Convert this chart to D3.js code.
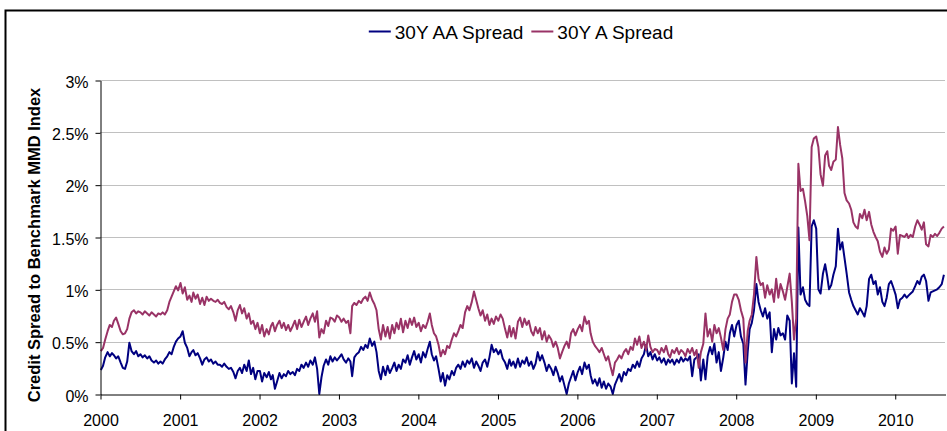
<!DOCTYPE html>
<html>
<head>
<meta charset="utf-8">
<script src="https://cdn.jsdelivr.net/npm/d3@7"></script>
<style>
body { margin: 0; background: #fff; }
svg { display: block; font-family: "Liberation Sans", Arial, sans-serif; }
</style>
</head>
<body>
<svg id="chart" width="947" height="431"></svg>
<script>
// legend / axis labels
var seriesNames = ["30Y AA Spread", "30Y A Spread"];
var seriesColors = ["#000080", "#993366"];
var yearLabels = ["2000","2001","2002","2003","2004","2005","2006","2007","2008","2009","2010"];
var yTicks = [0, 0.5, 1, 1.5, 2, 2.5, 3];
var yTitle = "Credit Spread to Benchmark MMD Index";

// spreads in %, three readings a month (5th, 15th, 25th), Jan 2000 - Aug 2010
var aaSpread = [
  0.23,0.27,0.35, 0.40,0.36,0.39, 0.37,0.34,0.36, 0.30,0.25,0.24, 0.31,0.49,0.41, 0.38,0.41,0.36, 0.38,0.35,0.37, 0.34,0.36,0.32, 0.30,0.32,0.29, 0.31,0.29,0.33, 0.36,0.40,0.38, 0.45,0.50,0.53,
  0.55,0.60,0.49, 0.44,0.36,0.40, 0.42,0.37,0.39, 0.34,0.28,0.33, 0.35,0.31,0.33, 0.29,0.31,0.28, 0.28,0.26,0.29, 0.26,0.24,0.25, 0.21,0.15,0.22, 0.25,0.20,0.28, 0.22,0.32,0.19, 0.25,0.14,0.22,
  0.22,0.12,0.20, 0.16,0.21,0.14, 0.18,0.05,0.12, 0.20,0.15,0.19, 0.17,0.22,0.19, 0.21,0.18,0.24, 0.22,0.28,0.25, 0.30,0.26,0.32, 0.28,0.35,0.24, 0.00,0.16,0.27, 0.33,0.28,0.36, 0.31,0.35,0.32,
  0.35,0.38,0.33, 0.30,0.34,0.31, 0.17,0.35,0.38, 0.40,0.45,0.42, 0.47,0.44,0.53, 0.46,0.50,0.40, 0.22,0.14,0.26, 0.18,0.27,0.20, 0.25,0.30,0.22, 0.28,0.24,0.33, 0.30,0.37,0.28, 0.35,0.41,0.33,
  0.38,0.30,0.40, 0.35,0.43,0.50, 0.38,0.32,0.36, 0.24,0.12,0.20, 0.08,0.18,0.14, 0.22,0.18,0.25, 0.28,0.24,0.31, 0.26,0.32,0.29, 0.34,0.25,0.31, 0.27,0.22,0.30, 0.33,0.26,0.35, 0.47,0.40,0.43,
  0.38,0.42,0.34, 0.30,0.24,0.33, 0.27,0.31,0.25, 0.34,0.26,0.32, 0.29,0.35,0.27, 0.31,0.24,0.29, 0.40,0.32,0.37, 0.30,0.22,0.28, 0.24,0.18,0.26, 0.20,0.12,0.17, 0.08,0.00,0.10, 0.16,0.22,0.13,
  0.21,0.26,0.19, 0.30,0.24,0.28, 0.18,0.10,0.14, 0.08,0.15,0.06, 0.12,0.05,0.10, 0.07,0.00,0.09, 0.14,0.19,0.12, 0.21,0.18,0.24, 0.22,0.28,0.25, 0.31,0.26,0.34, 0.38,0.47,0.36, 0.40,0.33,0.38,
  0.32,0.35,0.30, 0.34,0.28,0.33, 0.30,0.33,0.28, 0.33,0.30,0.35, 0.31,0.34,0.32, 0.36,0.17,0.33, 0.35,0.38,0.13, 0.33,0.14,0.36, 0.45,0.38,0.48, 0.30,0.40,0.22, 0.35,0.50,0.42, 0.58,0.66,0.55,
  0.66,0.70,0.55, 0.48,0.09,0.40, 0.62,0.68,0.80, 1.05,0.88,0.80, 0.74,0.82,0.72, 0.78,0.40,0.62, 0.52,0.63,0.56, 0.58,0.52,0.75, 0.70,0.10,0.39, 0.07,1.59,0.95, 1.02,0.90,0.86, 0.84,1.60,1.66,
  1.58,1.00,0.96, 1.15,1.24,1.12, 1.00,1.04,1.14, 1.22,1.58,1.38, 1.45,1.30,1.15, 0.97,0.90,0.84, 0.80,0.76,0.82, 0.78,0.74,0.84, 1.10,1.14,1.05, 1.08,0.95,1.02, 0.88,0.84,0.92, 1.05,1.08,1.02,
  0.95,0.82,0.90, 0.92,0.95,0.92, 0.94,0.96,0.98, 1.03,1.08,1.05, 1.12,1.14,1.08, 0.89,0.97,0.98, 0.99,1.00,1.02, 1.05,1.14
];
var aSpread = [
  0.41,0.44,0.52, 0.60,0.66,0.64, 0.70,0.73,0.67, 0.60,0.57,0.58, 0.62,0.72,0.78, 0.80,0.77,0.79, 0.78,0.76,0.79, 0.77,0.75,0.78, 0.76,0.74,0.77, 0.76,0.78,0.76, 0.80,0.88,0.93, 0.98,1.03,0.99,
  1.06,0.96,1.02, 0.90,0.94,0.88, 0.97,0.91,0.95, 0.86,0.92,0.85, 0.93,0.89,0.91, 0.89,0.88,0.90, 0.87,0.86,0.88, 0.83,0.81,0.84, 0.78,0.70,0.80, 0.85,0.77,0.82, 0.72,0.77,0.67, 0.70,0.62,0.68,
  0.58,0.66,0.55, 0.62,0.57,0.65, 0.68,0.60,0.66, 0.70,0.63,0.68, 0.61,0.66,0.60, 0.65,0.70,0.62, 0.71,0.64,0.69, 0.74,0.66,0.72, 0.77,0.69,0.79, 0.54,0.62,0.58, 0.70,0.65,0.73, 0.72,0.69,0.75,
  0.73,0.69,0.72, 0.68,0.70,0.58, 0.84,0.87,0.85, 0.89,0.87,0.91, 0.93,0.89,0.97, 0.90,0.86,0.80, 0.62,0.52,0.66, 0.55,0.64,0.53, 0.66,0.58,0.68, 0.62,0.72,0.59, 0.70,0.63,0.72, 0.66,0.73,0.64,
  0.68,0.60,0.66, 0.63,0.69,0.77, 0.66,0.58,0.55, 0.47,0.36,0.42, 0.38,0.46,0.44, 0.52,0.58,0.55, 0.60,0.66,0.63, 0.78,0.84,0.80, 0.88,0.98,0.90, 0.82,0.75,0.80, 0.70,0.76,0.66, 0.72,0.67,0.74,
  0.70,0.76,0.72, 0.62,0.54,0.65, 0.55,0.63,0.53, 0.69,0.73,0.64, 0.72,0.66,0.70, 0.60,0.56,0.64, 0.58,0.63,0.52, 0.60,0.50,0.56, 0.52,0.45,0.50, 0.44,0.34,0.40, 0.46,0.50,0.44, 0.58,0.62,0.56,
  0.62,0.66,0.60, 0.74,0.67,0.70, 0.58,0.50,0.46, 0.43,0.40,0.44, 0.38,0.32,0.36, 0.26,0.18,0.30, 0.33,0.37,0.34, 0.40,0.43,0.38, 0.45,0.42,0.53, 0.47,0.55,0.44, 0.50,0.42,0.56, 0.45,0.40,0.43,
  0.42,0.38,0.44, 0.40,0.46,0.38, 0.35,0.42,0.39, 0.44,0.38,0.42, 0.40,0.36,0.43, 0.39,0.44,0.37, 0.42,0.25,0.40, 0.48,0.77,0.55, 0.62,0.50,0.66, 0.58,0.63,0.54, 0.42,0.62,0.72, 0.76,0.88,0.95,
  0.95,0.90,0.80, 0.72,0.30,0.60, 0.70,0.76,0.95, 1.31,1.10,1.04, 1.06,0.92,1.04, 0.95,1.00,0.88, 1.10,0.92,1.05, 0.98,0.90,1.02, 1.15,0.88,0.52, 0.72,2.20,1.94, 1.96,1.84,1.70, 1.47,2.36,2.44,
  2.46,2.36,2.10, 1.99,2.28,2.32, 2.18,2.14,2.22, 2.24,2.55,2.38, 2.25,1.92,1.85, 1.82,1.76,1.64, 1.60,1.58,1.72, 1.68,1.76,1.66, 1.74,1.62,1.55, 1.50,1.46,1.36, 1.31,1.40,1.34, 1.38,1.58,1.56,
  1.60,1.34,1.52, 1.51,1.50,1.53, 1.49,1.52,1.50, 1.60,1.66,1.62, 1.57,1.64,1.43, 1.41,1.52,1.50, 1.53,1.51,1.54, 1.58,1.60
];

var readingDate = function(i) {
    var m = Math.floor(i / 3);
    return new Date(2000 + Math.floor(m / 12), m % 12, 5 + (i % 3) * 10);
};

var svg = d3.select("#chart");
var plotLeft = 100, plotRight = 945, plotTop = 80, plotBottom = 394;

var x = d3.scaleTime()
    .domain([new Date(2000, 0, 1), new Date(2010, 7, 20)])
    .range([plotLeft, plotRight]);
var y = d3.scaleLinear().domain([0, 3]).range([plotBottom, plotTop]);

// outer frame
svg.append("rect")
    .attr("x", 5.5).attr("y", 10.5)
    .attr("width", 960).attr("height", 440)
    .attr("fill", "none").attr("stroke", "#000").attr("stroke-width", 2);

// gridlines
svg.append("g").selectAll("line").data(yTicks.slice(1)).enter().append("line")
    .attr("x1", plotLeft).attr("x2", plotRight)
    .attr("y1", function(d) { return Math.round(y(d)) + 0.5; })
    .attr("y2", function(d) { return Math.round(y(d)) + 0.5; })
    .attr("stroke", "#c0c0c0").attr("stroke-width", 1);

// series
var line = d3.line()
    .x(function(d, i) { return x(readingDate(i)); })
    .y(function(d) { return y(d); });

[aaSpread, aSpread].forEach(function(s, k) {
    svg.append("path")
        .datum(s)
        .attr("d", line)
        .attr("fill", "none")
        .attr("stroke", seriesColors[k])
        .attr("stroke-width", 2)
        .attr("stroke-linejoin", "round");
});

// y axis
var yAxis = svg.append("g")
    .attr("transform", "translate(" + (plotLeft + 0.5) + ",0.5)")
    .call(d3.axisLeft(y).tickValues(yTicks).tickSize(5).tickPadding(7)
        .tickSizeOuter(0)
        .tickFormat(function(d) { return d + "%"; }));
yAxis.selectAll("text").attr("font-size", "16px").attr("dy", "0.42em")
    .attr("font-family", "Liberation Sans, Arial, sans-serif").attr("fill", "#000");

// x axis
var yearDates = yearLabels.map(function(s) { return new Date(+s, 0, 1); });
var xAxis = svg.append("g")
    .attr("transform", "translate(0.5," + (plotBottom + 0.5) + ")")
    .call(d3.axisBottom(x).tickValues(yearDates).tickSize(5).tickPadding(15)
        .tickSizeOuter(0)
        .tickFormat(function(d, i) { return yearLabels[i]; }));
xAxis.selectAll("text").attr("font-size", "16px").attr("font-family", "Liberation Sans, Arial, sans-serif").attr("fill", "#000");

// y title
svg.append("text")
    .attr("transform", "translate(40," + ((plotTop + plotBottom) / 2 + 8) + ") rotate(-90)")
    .attr("text-anchor", "middle")
    .attr("font-size", "16.5px")
    .attr("font-weight", "bold")
    .text(yTitle);

// legend, centred above the plot
var leg = svg.append("g");
var lx = 0;
seriesNames.forEach(function(name, k) {
    leg.append("line")
        .attr("x1", lx).attr("x2", lx + 22)
        .attr("y1", 0).attr("y2", 0)
        .attr("stroke", seriesColors[k]).attr("stroke-width", 2);
    var t = leg.append("text")
        .attr("x", lx + 26).attr("y", 7)
        .attr("font-size", "19px")
        .text(name);
    lx += 26 + t.node().getComputedTextLength() + 8;
});
leg.attr("transform", "translate(" + (521 - (lx - 8) / 2) + ",31.5)");
</script>
</body>
</html>
